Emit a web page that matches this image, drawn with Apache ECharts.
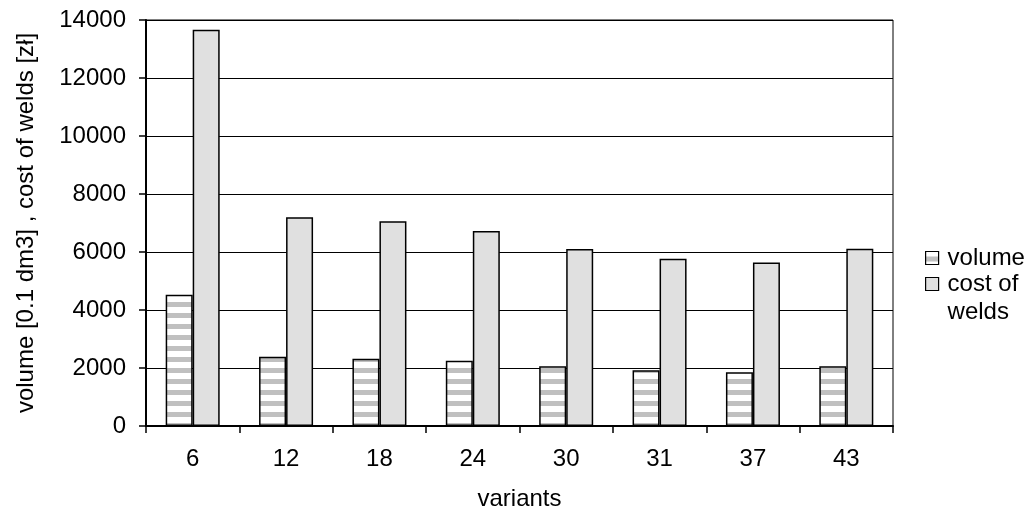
<!DOCTYPE html>
<html>
<head>
<meta charset="utf-8">
<script src="https://cdn.jsdelivr.net/npm/echarts@6/dist/echarts.min.js"></script>
<style>
  html, body { margin: 0; padding: 0; background: #fff; }
  #chart { width: 1031px; height: 513px; }
</style>
</head>
<body>
<div id="chart"></div>
<script>
// Categories (design variants) and the two series shown per variant
const variants = ['6', '12', '18', '24', '30', '31', '37', '43'];
const volume = [4530, 2390, 2320, 2250, 2060, 1920, 1850, 2060];
const costOfWelds = [13660, 7200, 7060, 6720, 6100, 5770, 5640, 6110];
const yTicks = { min: 0, max: 14000, interval: 2000 };

// Horizontal stripe fill for the volume bars
function stripePattern() {
  const c = document.createElement('canvas');
  c.width = 8;
  c.height = 11;
  const ctx = c.getContext('2d');
  ctx.fillStyle = '#ffffff';
  ctx.fillRect(0, 0, 8, 11);
  ctx.fillStyle = '#c0c0c0';
  ctx.fillRect(0, 5, 8, 5);
  return c;
}

const FONT = 'Liberation Sans, Arial, sans-serif';
const chart = echarts.init(document.getElementById('chart'), null, { renderer: 'canvas' });

chart.setOption({
  animation: false,
  backgroundColor: '#ffffff',
  textStyle: { fontFamily: FONT, color: '#000' },
  grid: {
    left: 146, right: 138, top: 20, bottom: 87,
    outerBoundsMode: 'none',
    containLabel: false,
    show: true, borderColor: '#000', borderWidth: 1, backgroundColor: 'transparent'
  },
  legend: [
    {
      data: ['volume'],
      orient: 'vertical',
      icon: 'rect',
      padding: 0,
      left: 925, top: 246,
      itemWidth: 13, itemHeight: 13,
      itemStyle: { borderColor: '#000', borderWidth: 1.2 },
      textStyle: { fontFamily: FONT, fontSize: 24, color: '#000', padding: [0, 0, 0, 4] }
    },
    {
      data: ['cost of welds'],
      orient: 'vertical',
      icon: 'rect',
      padding: 0,
      left: 925, top: 242,
      itemWidth: 13, itemHeight: 13,
      itemStyle: { borderColor: '#000', borderWidth: 1.2 },
      // leading blank line keeps the marker level with the first text line
      formatter: name => '\n' + name.replace('of ', 'of\n'),
      textStyle: { fontFamily: FONT, fontSize: 24, color: '#000', lineHeight: 28, padding: [0, 0, 0, 4] }
    }
  ],
  xAxis: {
    type: 'category',
    data: variants,
    name: 'variants',
    nameLocation: 'middle',
    nameGap: 61,
    nameTextStyle: { fontFamily: FONT, fontSize: 24, color: '#000' },
    axisLine: { lineStyle: { color: '#000', width: 2 } },
    axisTick: { show: true, length: 7, lineStyle: { color: '#000', width: 1.5 } },
    axisLabel: { fontFamily: FONT, fontSize: 24, color: '#000', margin: 21 }
  },
  yAxis: {
    type: 'value',
    min: yTicks.min, max: yTicks.max, interval: yTicks.interval,
    name: 'volume [0.1 dm3] , cost of welds [zł]',
    nameLocation: 'middle',
    nameGap: 108,
    nameTextStyle: { fontFamily: FONT, fontSize: 24, color: '#000' },
    axisLine: { show: true, lineStyle: { color: '#000', width: 2 } },
    axisTick: { show: true, length: 7, lineStyle: { color: '#000', width: 1.5 } },
    axisLabel: { fontFamily: FONT, fontSize: 24, color: '#000', margin: 20, formatter: v => String(v) },
    splitLine: { lineStyle: { color: '#000', width: 1.2 } }
  },
  series: [
    {
      name: 'volume',
      type: 'bar',
      data: volume,
      barWidth: 27,
      barGap: '0%',
      itemStyle: {
        color: { image: stripePattern(), repeat: 'repeat' },
        borderColor: '#000',
        borderWidth: 1.5
      }
    },
    {
      name: 'cost of welds',
      type: 'bar',
      data: costOfWelds,
      barWidth: 27,
      barGap: '0%',
      itemStyle: { color: '#e0e0e0', borderColor: '#000', borderWidth: 1.5 }
    }
  ]
});
</script>
</body>
</html>
